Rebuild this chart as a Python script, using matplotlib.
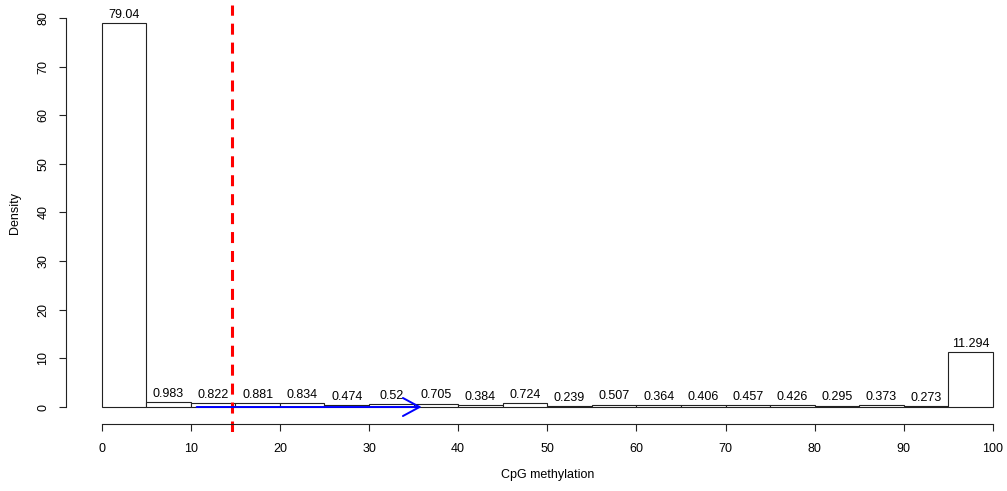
import matplotlib
matplotlib.use('Agg')
from matplotlib import pyplot as plt

plt.rcParams['font.family'] = ['Liberation Sans', 'DejaVu Sans']

# histogram of CpG methylation, 20 bins of 5%
breaks = list(range(0, 101, 5))
density = [79.04, 0.983, 0.822, 0.881, 0.834, 0.474, 0.52, 0.705, 0.384, 0.724,
           0.239, 0.507, 0.364, 0.406, 0.457, 0.426, 0.295, 0.373, 0.273, 11.294]
x_ticks = [0, 10, 20, 30, 40, 50, 60, 70, 80, 90, 100]
y_ticks = [0, 10, 20, 30, 40, 50, 60, 70, 80]

cutoff = 14.6          # red dashed line
arrow_from = 10.66     # blue arrow
arrow_to = 35.9

W, H = 1007, 491
fig = plt.figure(figsize=(W / 100, H / 100), dpi=100)
# plot region in pixels: x 66..1028.6, y 5..432
ax = fig.add_axes([66 / W, 1 - 432 / H, 962.6 / W, 427 / H])
ax.set_xlim(-4, 104)
ax.set_ylim(-5.14, 82.67)

ax.bar(breaks[:-1], density, width=5, align='edge', facecolor='white',
       edgecolor='#222222', linewidth=0.8)
ax.bar_label(ax.containers[0], labels=['%g' % d for d in density],
             padding=1.5, fontsize=9)

ax.axvline(cutoff, color='red', linewidth=2.2, linestyle=(0, (3.6, 2.6)))
ax.annotate('', xy=(arrow_to, 0), xytext=(arrow_from, 0),
            arrowprops=dict(arrowstyle='->,head_length=1.2,head_width=0.65',
                            color='blue', lw=1.4, mutation_scale=10,
                            shrinkA=0, shrinkB=0))

for s in ['top', 'right']:
    ax.spines[s].set_visible(False)
ax.spines['left'].set_bounds(0, 80)
ax.spines['bottom'].set_bounds(0, 100)
ax.spines['bottom'].set_position(('data', -3.5))
ax.spines['left'].set_color('#222222')
ax.spines['bottom'].set_color('#222222')
ax.set_xticks(x_ticks)
ax.set_yticks(y_ticks)
ax.tick_params(length=5, width=0.8, color='#222222', labelsize=9)
ax.tick_params(axis='x', pad=9)
ax.tick_params(axis='y', pad=7)
for lab in ax.get_yticklabels():
    lab.set_rotation(90)
    lab.set_va('center')

fig.text(15 / W, 1 - 213 / H, 'Density', rotation=90, ha='center', va='center', fontsize=9)
fig.text(548 / W, 1 - 475 / H, 'CpG methylation', ha='center', va='center', fontsize=9)

fig.savefig('out.png', dpi=100)
